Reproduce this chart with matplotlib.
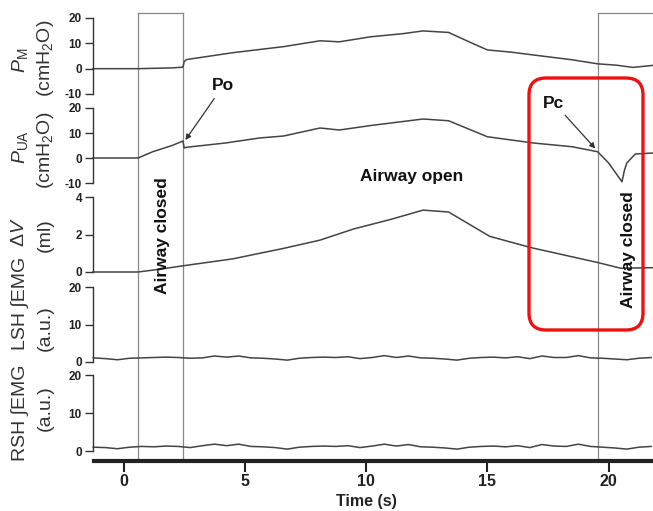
import matplotlib
matplotlib.use("Agg")
import matplotlib.pyplot as plt
from matplotlib.patches import FancyBboxPatch

plt.rcParams['font.family'] = ['Liberation Sans', 'DejaVu Sans']
plt.rcParams['mathtext.fontset'] = 'custom'
plt.rcParams['mathtext.rm'] = 'Liberation Sans'
plt.rcParams['mathtext.it'] = 'Liberation Sans:italic'
plt.rcParams['mathtext.bf'] = 'Liberation Sans:bold'
plt.rcParams['axes.unicode_minus'] = False

# ---------------- data ----------------
pm_t = [-1.26, 0.6, 2.0, 2.45, 2.5, 2.6, 4.5, 6.6, 8.1, 8.9, 10.2, 11.5, 12.35, 13.4, 14.2, 15.0, 16.0, 16.9, 18.5, 19.55, 20.3, 21.0, 21.83]
pm_v = [0.0, 0.0, 0.3, 0.6, 2.8, 3.6, 6.3, 8.7, 11.0, 10.6, 12.6, 13.8, 14.9, 14.3, 10.8, 7.4, 6.5, 5.4, 3.5, 1.9, 1.4, 0.5, 1.3]

pua_t = [-1.26, 0.6, 1.2, 2.0, 2.35, 2.45, 2.5, 2.6, 4.2, 5.6, 6.6, 8.1, 8.9, 10.2, 12.35, 13.4, 15.0, 16.9, 18.5, 19.55, 20.0, 20.55, 20.65, 20.75, 21.1, 21.83]
pua_v = [0.0, 0.0, 2.5, 5.0, 6.4, 6.8, 4.0, 4.3, 6.0, 8.0, 8.8, 12.0, 11.2, 13.0, 15.6, 14.9, 8.5, 6.0, 4.5, 2.5, -2.0, -9.5, -5.0, -2.0, 1.6, 2.0]

dv_t = [-1.26, 0.6, 1.5, 2.45, 4.5, 6.6, 8.1, 9.5, 11.0, 12.35, 13.4, 15.1, 16.8, 19.57, 20.5, 21.83]
dv_v = [0.0, 0.0, 0.15, 0.33, 0.7, 1.26, 1.7, 2.3, 2.8, 3.3, 3.2, 1.9, 1.3, 0.5, 0.2, 0.23]

emg_t = [-1.25, -0.75, -0.25, 0.25, 0.75, 1.25, 1.75, 2.25, 2.75, 3.25, 3.75, 4.25,
         4.75, 5.25, 5.75, 6.25, 6.75, 7.25, 7.75, 8.25, 8.75, 9.25, 9.75, 10.25,
         10.75, 11.25, 11.75, 12.25, 12.75, 13.25, 13.75, 14.25, 14.75, 15.25, 15.75, 16.25,
         16.75, 17.25, 17.75, 18.25, 18.75, 19.25, 19.75, 20.25, 20.75, 21.25, 21.75]
lsh_v = [1.1, 0.9, 0.6, 1.0, 1.1, 1.2, 1.3, 1.2, 1.0, 1.1, 1.6, 1.3, 1.6, 1.1, 1.0, 0.8, 0.5,
         1.0, 1.2, 1.3, 1.2, 1.4, 0.9, 1.2, 1.7, 1.2, 1.6, 1.1, 1.0, 0.8, 0.5, 1.0, 1.2,
         1.3, 1.1, 1.4, 0.9, 1.6, 1.2, 1.2, 1.7, 1.1, 1.0, 0.8, 0.6, 1.0, 1.2]
rsh_v = [1.0, 0.9, 0.6, 1.0, 1.2, 1.1, 1.3, 1.2, 0.9, 1.4, 1.8, 1.4, 1.8, 1.2, 1.1, 0.9, 0.5,
         1.0, 1.2, 1.3, 1.2, 1.4, 0.9, 1.3, 1.8, 1.3, 1.7, 1.1, 1.0, 0.8, 0.5, 1.0, 1.2,
         1.3, 1.1, 1.4, 0.9, 1.7, 1.3, 1.2, 1.8, 1.2, 1.0, 0.8, 0.5, 1.0, 1.2]

event_t = [0.60, 2.45, 19.57]   # airway closure boundaries
time_ticks = [0, 5, 10, 15, 20]

W, H = 653, 511
XL = (-1.26, 21.83)
LINE = '#444444'
SP = '#333333'

fig = plt.figure(figsize=(W / 100, H / 100), dpi=100)


def rect(left, top, right, bottom):
    return [left / W, 1 - bottom / H, (right - left) / W, (bottom - top) / H]


def fx(x):
    return x / W


def fy(y):
    return 1 - y / H


# overlay for closure boxes
ov = fig.add_axes(rect(93, 13, 653, 461))
ov.set_xlim(*XL)
ov.set_ylim(0, 1)
ov.axis('off')
for t in event_t:
    ov.plot([t, t], [0, 1], color='#888888', lw=0.9, clip_on=False)
ov.plot([event_t[0], event_t[1]], [1, 1], color='#888888', lw=0.9, clip_on=False)
ov.plot([event_t[2], XL[1]], [1, 1], color='#888888', lw=0.9, clip_on=False)

panels = [
    (pm_t, pm_v, (-10, 20), [-10, 0, 10, 20], 18, 94),
    (pua_t, pua_v, (-10, 20), [-10, 0, 10, 20], 108, 183),
    (dv_t, dv_v, (0, 4), [0, 2, 4], 197, 272),
    (emg_t, lsh_v, (0, 20), [0, 10, 20], 287, 362),
    (emg_t, rsh_v, (0, 20), [0, 10, 20], 375, 451),
]
axes = []
for t, v, yl, yt, top, bot in panels:
    ax = fig.add_axes(rect(93, top, 653, bot))
    ax.patch.set_visible(False)
    ax.set_xlim(*XL)
    ax.set_ylim(*yl)
    ax.set_yticks(yt)
    ax.set_yticklabels([str(k) for k in yt], fontweight='bold', fontsize=8.5, color='#222222')
    ax.set_xticks([])
    for s in ['top', 'right', 'bottom']:
        ax.spines[s].set_visible(False)
    ax.spines['left'].set_color(SP)
    ax.spines['left'].set_linewidth(1.0)
    ax.tick_params(axis='y', direction='out', length=6, width=1.0, color=SP, pad=2)
    ax.plot(t, v, color=LINE, lw=1.1, clip_on=False)
    axes.append(ax)

# bottom time axis
axb = fig.add_axes(rect(94, 460, 653, 461))
axb.patch.set_visible(False)
axb.set_xlim(XL[0] + 1 / 24.25, XL[1])
axb.set_yticks([])
for s in ['top', 'right', 'left']:
    axb.spines[s].set_visible(False)
axb.spines['bottom'].set_linewidth(3.0)
axb.spines['bottom'].set_color('#222222')
axb.set_xticks(time_ticks)
axb.set_xticklabels([str(k) for k in time_ticks], fontweight='bold', fontsize=11.5, color='#222222')
axb.tick_params(axis='x', direction='out', length=8, width=1.5, color='#222222', pad=1.5)
fig.text(fx(366), fy(501), 'Time (s)', ha='center', va='center', fontsize=11.5, fontweight='bold', color='#222222')

# y labels
lab = dict(rotation=90, ha='center', va='center', fontsize=14, color='#333333')
fig.text(fx(20), fy(60), r'$P_{\mathrm{M}}$', **lab)
fig.text(fx(45), fy(58), r'(cmH$_2$O)', **lab)
fig.text(fx(20), fy(147), r'$P_{\mathrm{UA}}$', **lab)
fig.text(fx(45), fy(150), r'(cmH$_2$O)', **lab)
fig.text(fx(20), fy(232), r'Δ$V$', **lab)
fig.text(fx(45), fy(235), '(ml)', **lab)
fig.text(fx(20), fy(303), 'LSH ∫EMG', **lab)
fig.text(fx(45), fy(328), '(a.u.)', **lab)
fig.text(fx(20), fy(413), 'RSH ∫EMG', **lab)
fig.text(fx(45), fy(408), '(a.u.)', **lab)

# annotations
txt = dict(fontsize=12.5, fontweight='bold', color='#111111')
fig.text(fx(412), fy(177), 'Airway open', ha='center', va='center', **txt)
fig.text(fx(163), fy(236), 'Airway closed', rotation=90, ha='center', va='center', **txt)
fig.text(fx(628), fy(250), 'Airway closed', rotation=90, ha='center', va='center', **txt)

ax_ua = axes[1]
ap = dict(arrowstyle='-|>', lw=0.9, color='#333333', mutation_scale=8, shrinkA=2, shrinkB=0)
ax_ua.annotate('Po', xy=(2.55, 7.2), xytext=(fx(223), fy(86)), textcoords='figure fraction',
               ha='center', va='center', arrowprops=ap, annotation_clip=False, **txt)
ax_ua.annotate('Pc', xy=(19.45, 3.8), xytext=(fx(554), fy(103)), textcoords='figure fraction',
               ha='center', va='center', arrowprops=ap, annotation_clip=False, **txt)

# red highlight box
box = FancyBboxPatch((529 / 100, (H - 330) / 100), (643 - 529) / 100, (330 - 78) / 100,
                     boxstyle='round,pad=0,rounding_size=0.17', transform=fig.dpi_scale_trans,
                     fill=False, ec='#ee1111', lw=2.4)
fig.add_artist(box)

fig.savefig('out.png', dpi=100)
